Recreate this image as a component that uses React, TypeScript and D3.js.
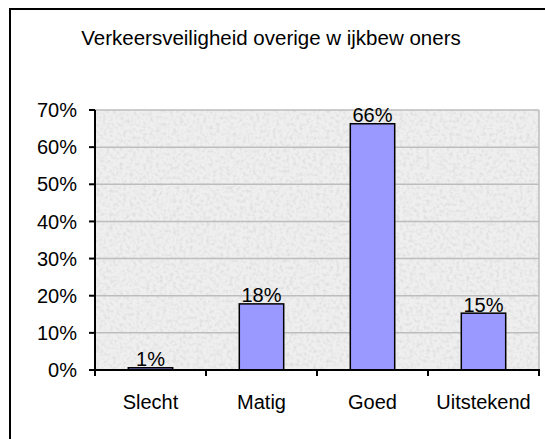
import { useEffect, useRef } from "react";
import * as d3 from "d3";

const categories = ["Slecht", "Matig", "Goed", "Uitstekend"];
const values = [0.6, 17.8, 66.3, 15.3];
const valueLabels = ["1%", "18%", "66%", "15%"];
const yTicks = [0, 10, 20, 30, 40, 50, 60, 70];
const title = "Verkeersveiligheid overige w ijkbew oners";

export default function App() {
  const svgRef = useRef<SVGSVGElement | null>(null);

  useEffect(() => {
    if (!svgRef.current) return;
    const svg = d3.select(svgRef.current);
    svg.selectAll("*").remove();

    const width = 545;
    const height = 439;
    const margin = { top: 110, right: 6, bottom: 69, left: 95 };
    const font = "Arial, 'Liberation Sans', sans-serif";

    // mottled texture for the plot area
    const defs = svg.append("defs");
    const filter = defs.append("filter").attr("id", "grain").attr("x", 0).attr("y", 0).attr("width", 1).attr("height", 1);
    filter.append("feTurbulence").attr("type", "fractalNoise").attr("baseFrequency", 0.3).attr("numOctaves", 2).attr("seed", 3).attr("result", "noise");
    filter.append("feColorMatrix").attr("in", "noise").attr("type", "matrix")
      .attr("values", "0 0 0 0 0.62  0 0 0 0 0.62  0 0 0 0 0.62  1.3 0 0 0 -0.55")
      .attr("result", "spots");
    filter.append("feComposite").attr("in", "spots").attr("in2", "SourceGraphic").attr("operator", "over");

    // outer frame
    svg.append("rect")
      .attr("x", 10).attr("y", 9)
      .attr("width", 600).attr("height", 500)
      .attr("fill", "#fff").attr("stroke", "#000").attr("stroke-width", 2);

    svg.append("text")
      .attr("x", 271).attr("y", 45)
      .attr("text-anchor", "middle")
      .style("font-family", font).style("font-size", "20.5px")
      .text(title);

    const x = d3.scaleBand().domain(categories).range([margin.left, width - margin.right]).paddingInner(0.6).paddingOuter(0.3);
    const xEdge = d3.scaleLinear().domain([0, categories.length]).range([margin.left, width - margin.right]);
    const y = d3.scaleLinear().domain([0, 70]).range([height - margin.bottom, margin.top]);

    const x0 = margin.left;
    const x1 = width - margin.right;

    svg.append("rect")
      .attr("x", x0).attr("y", y(70))
      .attr("width", x1 - x0).attr("height", y(0) - y(70))
      .attr("fill", "#efefef")
      .attr("filter", "url(#grain)");

    // gridlines
    svg.append("g").selectAll("line").data(yTicks.filter(t => t > 0)).join("line")
      .attr("x1", x0).attr("x2", x1)
      .attr("y1", d => y(d)).attr("y2", d => y(d))
      .attr("stroke", "#bdbdbd").attr("stroke-width", 1.5);

    svg.append("line")
      .attr("x1", x1).attr("x2", x1).attr("y1", y(70)).attr("y2", y(0))
      .attr("stroke", "#bdbdbd").attr("stroke-width", 1.5);

    // bars
    svg.append("g").selectAll("rect").data(values).join("rect")
      .attr("x", (_, i) => x(categories[i])!)
      .attr("y", d => y(d))
      .attr("width", x.bandwidth())
      .attr("height", d => y(0) - y(d))
      .attr("fill", "#9999ff")
      .attr("stroke", "#000").attr("stroke-width", 1.5);

    svg.append("g").selectAll("text").data(values).join("text")
      .attr("x", (_, i) => x(categories[i])! + x.bandwidth() / 2)
      .attr("y", d => y(d) - 1.5)
      .attr("text-anchor", "middle")
      .style("font-family", font).style("font-size", "20px")
      .text((_, i) => valueLabels[i]);

    // y axis
    svg.append("line")
      .attr("x1", x0).attr("x2", x0).attr("y1", y(70)).attr("y2", y(0))
      .attr("stroke", "#000").attr("stroke-width", 2);
    const yg = svg.append("g");
    yg.selectAll("line").data(yTicks).join("line")
      .attr("x1", x0 - 6).attr("x2", x0)
      .attr("y1", d => y(d)).attr("y2", d => y(d))
      .attr("stroke", "#000").attr("stroke-width", 2);
    yg.selectAll("text").data(yTicks).join("text")
      .attr("x", 77).attr("y", d => y(d))
      .attr("dy", "0.36em")
      .attr("text-anchor", "end")
      .style("font-family", font).style("font-size", "20px")
      .text(d => `${d}%`);

    // x axis
    svg.append("line")
      .attr("x1", x0 - 6).attr("x2", x1 + 1).attr("y1", y(0)).attr("y2", y(0))
      .attr("stroke", "#000").attr("stroke-width", 2);
    const xg = svg.append("g");
    xg.selectAll("line").data(d3.range(categories.length + 1)).join("line")
      .attr("x1", d => xEdge(d)).attr("x2", d => xEdge(d))
      .attr("y1", y(0)).attr("y2", y(0) + 6)
      .attr("stroke", "#000").attr("stroke-width", 2);
    xg.selectAll("text").data(categories).join("text")
      .attr("x", d => x(d)! + x.bandwidth() / 2)
      .attr("y", 409)
      .attr("text-anchor", "middle")
      .style("font-family", font).style("font-size", "20px")
      .text(d => d);
  }, []);

  return (
    <svg
      ref={svgRef}
      width={545}
      height={439}
      style={{ position: "absolute", left: 0, top: 0, display: "block" }}
    />
  );
}
